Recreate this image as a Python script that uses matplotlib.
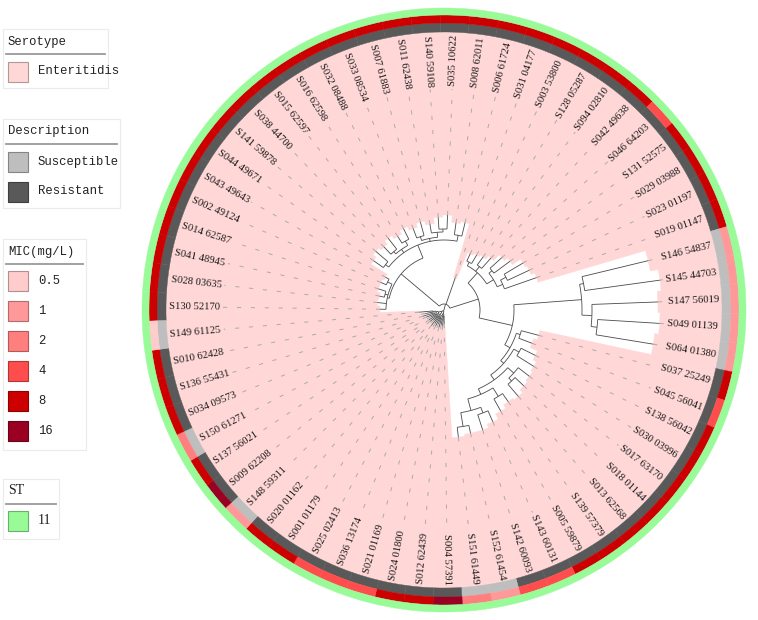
import numpy as np
import matplotlib.pyplot as plt
from matplotlib.patches import Wedge, Rectangle
from matplotlib.collections import LineCollection
from matplotlib.colors import to_rgb

plt.rcParams['lines.scale_dashes'] = False

# ---- tree (newick pieces, branch lengths in pixel-ish units) ----
tl_a = "(S130_52170:6,S028_03635:9,(S041_48945:5,S014_62587:8):3,(S002_49124:6,S043_49643:4):5)"
tl_b = ("((S044_49671:12,S141_59878:16):4,((S038_44700:10,S015_62597:14):3,"
        "(S016_62598:8,S032_08488:12):5):4,((S033_08534:10,S007_61883:14):4,"
        "(S011_62438:9,(S140_59108:12,S035_10622:14):3):5):3,(S008_62011:12,S006_61724:14):6)")
s031 = "S031_04177:28"
ra = ("((S003_53800:8,S128_05287:10):4,(S094_02810:10,S042_49638:14):6,"
      "((S046_64203:16,S131_52575:20):4,((S029_03988:22,S023_01197:24):6,S019_01147:34):6):8)")
rb = "((S146_54837:68,S145_44703:76):4,(S147_56019:66,(S049_01139:62,S064_01380:58):6):10)"
rc = ("((S037_25249:18,S045_56041:14):4,((S138_56042:16,S030_03996:20):6,"
      "((S017_63170:14,(S018_01144:12,S013_62568:16):4):8,((S139_57379:10,S005_59879:14):10,"
      "((S143_60131:12,S142_60093:16):6,(S152_61454:8,S151_61449:10):14):12):6):6):4)")
ll = ("(((S004_57391:8,S012_62439:10):2,((S024_01800:6,S021_01169:9):3,"
      "(S036_13174:7,S025_02413:10):2):2):3,(((S001_01179:8,S020_01162:12):2,"
      "(S148_59311:5,S009_62208:9):3):3,((S137_56021:10,S150_61271:7):2,"
      "((S034_09573:9,S136_55431:12):2,(S010_62428:8,S149_61125:14):3):2):3):2)")

tl = "(" + tl_a + ":2," + tl_b + ":14)"
r_clade = "(" + ra + ":14,(" + rb + ":68," + rc + ":6):34)"
newick = "((" + tl + ":50," + s031 + "," + r_clade + ":30):6," + ll + ":1);"

# ---- tip annotations (same order as the tips in the tree) ----
mic = [8, 8, 8, 8, 8, 8, 8, 8, 8, 8, 8, 8, 8, 8, 8, 8, 8, 8, 8,
       8,
       8, 8, 8, 8, 4, 8, 8, 8, 8,
       1, 1, 1, 1, 1,
       8, 4, 8, 8, 8, 8, 8, 8, 8, 4, 4, 1, 2,
       16, 8, 8, 4, 4, 4, 8, 8, 1, 16, 8, 2, 8, 8, 8, 0.5]
description = ['R'] * 19 + ['R'] + ['R'] * 9 + ['S', 'S', 'S', 'S', 'S'] + \
    ['R', 'R', 'R', 'R', 'R', 'R', 'R', 'R', 'R', 'R', 'R', 'S', 'S'] + \
    ['R', 'R', 'R', 'R', 'R', 'R', 'R', 'R', 'S', 'R', 'R', 'S', 'R', 'R', 'R', 'S']

mic_levels = [0.5, 1, 2, 4, 8, 16]
mic_labels = ['0.5', '1', '2', '4', '8', '16']
mic_colors = ['#FFCCCC', '#FF9999', '#FF7F7F', '#FF4D4D', '#CC0000', '#990022']
desc_colors = {'S': '#BEBEBE', 'R': '#595959'}
sero_color = '#FFD7D7'
st_color = '#98FB98'


def parse(s):
    pos = 0

    def node():
        nonlocal pos
        kids = []
        if s[pos] == '(':
            pos += 1
            while True:
                kids.append(node())
                if s[pos] == ',':
                    pos += 1
                    continue
                pos += 1
                break
        st = pos
        while s[pos] not in ':,();':
            pos += 1
        name = s[st:pos]
        bl = 0.0
        if s[pos] == ':':
            pos += 1
            st = pos
            while s[pos] not in ',();':
                pos += 1
            bl = float(s[st:pos])
        return {'name': name.replace('_', ' '), 'bl': bl, 'children': kids}
    return node()


root = parse(newick)
n_tips = len(mic)
step = 360.0 / n_tips
start = 179.3
tips = []


def layout(nd, r0):
    nd['r'] = r0 + nd['bl']
    if not nd['children']:
        nd['a'] = start - len(tips) * step
        tips.append(nd)
    else:
        for c in nd['children']:
            layout(c, nd['r'])
        nd['a'] = np.mean([c['a'] for c in nd['children']])


layout(root, 0.0)

cx, cy = 444, 310
r_lab = 224
r_ring = [278, 287, 295, 302]


def xy(r, a):
    t = np.radians(a)
    return cx + r * np.cos(t), cy - r * np.sin(t)


fig = plt.figure(figsize=(7.58, 6.2), dpi=100)
ax = fig.add_axes([0, 0, 1, 1])
ax.set_xlim(0, 758)
ax.set_ylim(620, 0)
ax.axis('off')


def wedge(r_out, width, a, color, z):
    # y axis is inverted, so the angles are mirrored
    w = Wedge((cx, cy), r_out, -(a + step / 2), -(a - step / 2), width=width,
              facecolor=color, edgecolor=color, lw=0.3, zorder=z)
    ax.add_patch(w)


# serotype background, dashed align lines, labels and rings
for i, tp in enumerate(tips):
    a = tp['a']
    wedge(r_ring[0], r_ring[0] - tp['r'], a, sero_color, 1)
    x0, y0 = xy(tp['r'], a)
    x1, y1 = xy(r_lab - 3, a)
    ax.plot([x0, x1], [y0, y1], color='#ABABAB', lw=0.7, linestyle=(0, (3, 7)), zorder=2)
    aa = a % 360
    if 90 < aa < 270:
        rot, ha = aa - 180, 'right'
    else:
        rot, ha = aa if aa < 90 else aa - 360, 'left'
    tx, ty = xy(r_lab, a)
    ax.text(tx, ty, tp['name'], rotation=rot, ha=ha, va='center', rotation_mode='anchor',
            fontsize=7.7, family=['Liberation Serif', 'DejaVu Serif'], color='#1A1A1A', zorder=4)
    wedge(r_ring[1], r_ring[1] - r_ring[0], a, desc_colors[description[i]], 3)
    wedge(r_ring[2], r_ring[2] - r_ring[1], a, mic_colors[mic_levels.index(mic[i])], 3)
    wedge(r_ring[3], r_ring[3] - r_ring[2], a, st_color, 3)

# tree branches
segs = []


def draw(nd, pr):
    if pr is not None:
        segs.append([xy(pr, nd['a']), xy(nd['r'], nd['a'])])
    if nd['children']:
        angs = [c['a'] for c in nd['children']]
        arc = np.linspace(min(angs), max(angs), 60)
        segs.append([xy(nd['r'], t) for t in arc])
        for c in nd['children']:
            draw(c, nd['r'])


draw(root, None)
ax.add_collection(LineCollection(segs, colors='#4A4A4A', linewidths=0.6, zorder=3))

# ---- legends ----
mono = ['Liberation Mono', 'DejaVu Sans Mono']
serif = ['Liberation Serif', 'DejaVu Serif']


def darker(c, f=0.7):
    return tuple(v * f for v in to_rgb(c))


def legend(box, title, title_y, line_y, items, fam, fs):
    x0, y0, x1, y1 = box
    ax.add_patch(Rectangle((x0, y0), x1 - x0, y1 - y0, facecolor='white',
                           edgecolor='#EBEBEB', lw=0.8, zorder=5))
    ax.text(8, title_y, title, fontsize=fs, family=fam, color='#222222',
            va='center', ha='left', zorder=6)
    ax.plot([6, x1 - 3], [line_y, line_y], color='#9A9A9A', lw=1.3, zorder=6)
    for lab, col, yc in items:
        ax.add_patch(Rectangle((7.5, yc - 10), 20, 20, facecolor=col,
                               edgecolor=darker(col), lw=0.8, zorder=6))
        ax.text(38, yc, lab, fontsize=fs, family=fam, color='#222222',
                va='center', ha='left', zorder=6)


legend((3, 29, 108, 88), 'Serotype', 42, 54,
       [('Enteritidis', sero_color, 71.5)], mono, 8.8)
legend((3, 119, 120, 208), 'Description', 131, 144,
       [('Susceptible', desc_colors['S'], 161.5), ('Resistant', desc_colors['R'], 191.5)], mono, 8.8)
legend((3, 239, 86, 450), 'MIC(mg/L)', 252, 264,
       [(l, c, 281 + 30 * k) for k, (l, c) in enumerate(zip(mic_labels, mic_colors))], mono, 8.8)
legend((3, 479, 59, 539), 'ST', 491, 504, [('11', st_color, 521)], serif, 10)

fig.savefig('out.png', dpi=100)
